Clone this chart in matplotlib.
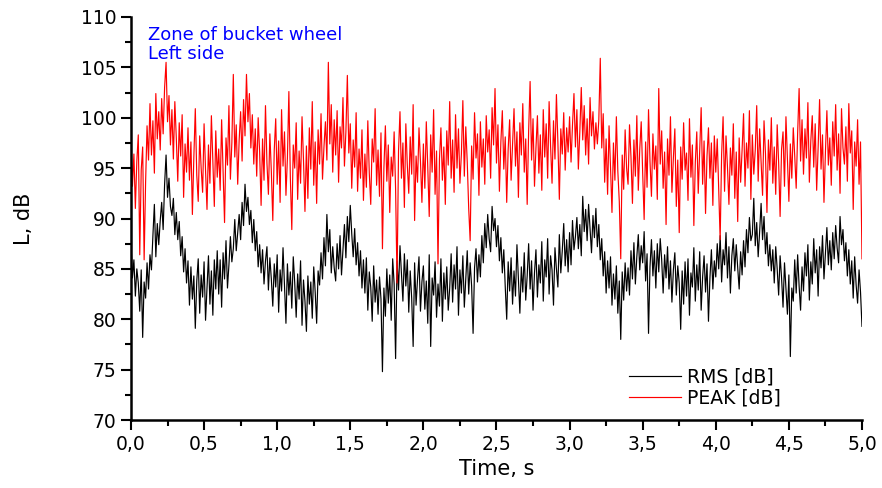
import numpy as np
import matplotlib
matplotlib.use("Agg")
import matplotlib.pyplot as plt
from matplotlib.ticker import MultipleLocator, FuncFormatter

plt.rcParams['font.family'] = ['DejaVu Sans']

# sampled every 0.01 s from 0,00 to 5,00 s
dt = 0.01

rms_db = [
    87.6, 84.1, 85.9, 82.3, 85.0, 83.6, 80.8, 84.9, 78.2, 83.7, 82.1, 85.6, 83.0, 86.4, 84.9, 88.3, 91.4, 86.2, 89.5, 87.4,
    89.8, 91.6, 88.9, 93.4, 96.3, 92.1, 94.0, 91.2, 90.3, 92.0, 88.4, 90.6, 87.9, 89.7, 86.3, 88.2, 84.7, 87.0, 83.6, 85.8,
    81.4, 85.2, 82.0, 84.3, 79.1, 83.8, 86.0, 80.6, 84.4, 82.2, 85.7, 79.9, 83.1, 86.3, 81.5, 84.8, 80.4, 85.9, 83.0, 86.8,
    82.5, 85.9, 81.2, 86.6, 84.0, 87.8, 83.1, 85.4, 88.2, 85.7, 87.0, 89.9, 86.8, 88.6, 90.4, 87.9, 91.6, 89.3, 93.4, 90.7,
    92.1, 89.4, 90.8, 87.6, 89.9, 86.8, 88.7, 85.2, 87.4, 84.6, 86.9, 83.5, 85.8, 87.2, 82.9, 86.1, 84.0, 81.3, 85.5, 83.2,
    86.4, 80.7, 84.9, 82.8, 87.1, 83.3, 79.6, 85.5, 82.4, 84.7, 81.1, 86.2, 83.6, 80.2, 84.5, 82.0, 85.8, 79.4, 83.9, 81.8,
    78.8, 84.3, 81.5, 83.7, 80.1, 85.2, 82.7, 79.6, 84.8, 83.4, 86.6, 84.0, 88.1, 85.3, 90.4, 86.7, 88.9, 84.6, 87.2, 85.1,
    83.8, 87.5, 85.0, 88.3, 84.4, 86.9, 89.4, 86.1, 90.2, 87.7, 91.3, 88.5, 86.2, 89.0, 85.4, 87.6, 84.3, 86.8, 83.1, 85.9,
    82.6, 86.1, 80.9, 84.7, 83.2, 79.8, 85.3, 81.7, 83.9, 80.5, 84.2, 82.0, 74.8, 83.1, 80.3, 85.0, 81.6, 84.4, 79.9, 86.0,
    83.5, 76.1, 85.8, 82.9, 87.3, 84.6, 81.8, 86.5, 83.3, 85.9, 80.7, 84.8, 82.1, 77.3, 85.6, 81.4, 84.0, 86.2, 80.8, 83.7,
    85.3, 81.0, 83.8, 79.6, 86.4, 77.3, 84.1, 82.4, 85.7, 80.2, 83.5, 81.3, 86.0, 79.8, 84.6, 82.0, 85.2, 80.9, 83.1, 86.5,
    81.7, 85.4, 83.0, 87.2, 80.4, 84.9, 82.6, 86.3, 81.2, 84.0, 86.8, 82.5, 85.6, 83.3, 78.6, 85.1, 87.0, 83.7, 86.4, 84.2,
    88.3, 85.6, 89.5, 87.1, 90.4, 88.0, 86.7, 91.2, 88.8, 90.0, 87.2, 89.3, 85.8, 88.1, 84.6, 86.9, 83.2, 80.0, 85.7, 82.8,
    86.1, 81.5, 84.8, 82.3, 87.4, 83.9, 80.6, 85.2, 82.7, 86.6, 81.9, 84.3, 87.5, 83.0, 85.8, 80.9, 84.6, 86.9, 82.2, 85.4,
    83.6, 87.7, 81.8, 85.9, 84.2, 88.0, 82.5, 86.3, 84.9, 81.4, 87.1, 85.0, 83.2, 88.4, 84.6, 86.8, 89.5, 85.3, 87.9, 84.7,
    88.6, 85.4, 89.8, 86.9, 88.2, 90.1, 87.0, 89.4, 86.3, 92.2, 88.7, 90.9, 87.8, 91.4, 89.0, 86.6, 90.3, 88.1, 91.0, 87.2,
    89.4, 85.9, 88.0, 84.3, 86.7, 82.6, 85.8, 83.1, 86.2, 81.4, 84.5, 82.0, 85.3, 80.6, 83.8, 78.0, 84.7, 81.9, 85.6, 82.8,
    85.1, 82.4, 86.8, 84.0, 87.6, 83.5, 86.2, 88.4, 84.9, 87.3, 85.6, 88.7, 83.8, 86.5, 78.6, 85.2, 87.9, 84.3, 86.8, 83.1,
    87.5, 84.7, 88.0, 85.9, 82.6, 86.4, 84.1, 87.2, 83.0, 85.8, 81.7, 84.9, 86.6, 82.4, 85.3, 83.6, 79.0, 84.8, 81.5, 85.7,
    82.3, 86.0, 80.4, 84.6, 83.2, 87.1, 81.8, 85.4, 82.9, 86.7, 80.9, 84.2, 86.3, 82.7, 85.5, 79.8, 84.1, 86.9, 83.0, 85.8,
    84.2, 87.5, 85.0, 88.3, 83.7, 86.9, 85.4, 88.6, 84.1, 87.2, 82.6, 86.3, 88.0, 84.8, 87.4, 85.1, 83.0, 86.7, 84.4, 87.8,
    85.2, 88.9, 86.6, 90.1, 87.8, 88.4, 92.0, 87.3, 89.6, 86.2, 88.7, 91.5, 87.9, 90.2, 86.5, 88.6, 85.3, 87.4, 84.8, 86.9,
    83.6, 87.2, 85.0, 82.4, 86.3, 84.1, 81.2, 85.6, 83.0, 80.5, 84.4, 76.3, 83.1, 81.8, 85.9, 82.6, 86.4, 83.3, 80.9, 85.2,
    82.8, 86.6, 84.3, 87.4, 81.9, 85.7, 83.5, 88.0, 84.6, 86.9, 82.3, 87.2, 85.1, 88.3, 84.0, 86.5, 89.1, 85.4, 87.8, 84.9,
    88.6, 86.0, 89.3, 87.1, 85.6, 90.2, 87.4, 88.9, 85.8, 87.6, 84.3, 86.9, 83.5, 85.8, 82.1, 86.2, 83.4, 81.6, 84.9, 82.7,
    79.3,
]

peak_db = [
    97.8, 93.2, 96.4, 91.0, 95.7, 98.3, 86.4, 94.8, 97.1, 85.9, 93.6, 99.2, 95.8, 101.4, 96.3, 99.7, 94.5, 102.4, 97.9, 100.6,
    96.8, 101.9, 98.4, 103.0, 105.5, 99.6, 102.2, 97.3, 100.8, 95.9, 101.6, 98.0, 93.7, 99.5, 96.2, 100.3, 92.1, 97.4, 94.6, 99.0,
    93.8, 97.6, 90.4, 96.1, 100.9, 94.3, 91.7, 98.2, 95.0, 92.6, 99.4, 94.8, 90.9, 97.3, 93.5, 100.2, 95.6, 91.2, 98.7, 94.1,
    96.9, 92.8, 99.8, 94.6, 89.6, 98.0, 95.3, 101.2, 93.9, 97.5, 104.3, 96.1, 99.3, 93.4, 97.8, 100.6, 95.7, 101.8, 98.2, 104.3,
    99.6, 102.4, 97.0, 100.3, 95.4, 98.9, 94.2, 100.0, 96.6, 91.3, 97.9, 93.8, 101.2, 95.5, 92.4, 98.4, 94.7, 89.8, 96.8, 99.9,
    93.4, 97.7, 91.6, 100.8, 95.2, 98.6, 92.3, 96.0, 102.6, 94.1, 88.9, 97.3, 95.0, 99.5, 91.9, 96.7, 93.5, 100.1, 95.8, 90.7,
    97.2, 92.0, 99.0, 94.9, 101.6, 93.3, 97.6, 91.5, 98.8, 95.4, 100.4, 93.9, 97.1, 99.6, 95.8, 105.5, 97.4, 101.3, 94.6, 99.8,
    96.3, 100.7, 93.6, 99.1, 97.0, 102.0, 95.2, 98.6, 104.2, 96.5, 99.4, 93.0, 97.8, 95.1, 100.5, 92.7, 96.9, 94.0, 98.8, 91.8,
    96.4, 93.1, 99.7, 94.5, 91.4, 97.9, 95.6, 100.9, 93.3, 96.8, 92.2, 98.5, 87.0, 95.0, 99.2, 93.7, 97.3, 90.6, 96.1, 94.2,
    98.6, 92.9, 83.6, 96.7, 100.6, 94.0, 97.5, 91.1, 99.4, 95.3, 92.5, 98.1, 94.4, 101.3, 89.8, 96.2, 93.6, 99.0, 95.7, 91.6,
    97.4, 93.0, 99.6, 95.1, 90.2, 98.3, 94.6, 100.8, 92.4, 96.7, 85.5, 95.9, 99.0, 93.8, 97.1, 91.4, 98.7, 95.3, 101.6, 94.0,
    97.8, 92.6, 100.3, 95.0, 98.9, 93.5, 96.4, 101.7, 94.2, 99.1, 95.6, 91.0, 87.8, 97.2, 93.9, 100.5, 96.0, 98.4, 92.3, 99.6,
    95.1, 97.9, 93.4, 100.2, 96.6, 98.8, 94.0, 101.0, 97.3, 102.9, 95.5, 99.3, 92.7, 97.6, 100.7, 94.9, 98.1, 91.6, 96.9, 99.8,
    93.8, 97.4, 100.9, 95.2, 98.6, 92.1, 99.5, 96.3, 101.4, 94.6, 97.9, 91.4, 98.7, 103.6, 95.8, 99.9, 93.2, 97.0, 100.2, 94.5,
    98.3, 92.8, 100.8, 96.1, 99.4, 94.0, 101.6, 97.2, 93.5, 99.7, 95.9, 102.3, 97.6, 91.9, 98.9, 96.4, 100.5, 94.8, 99.0, 96.6,
    100.1, 95.6, 99.3, 102.4, 97.1, 100.8, 94.9, 98.6, 103.0, 97.8, 101.2, 96.3, 99.9, 95.4, 102.0, 98.2, 100.6, 96.9, 99.5, 97.4,
    99.8, 105.9, 97.0, 100.4, 93.6, 97.9, 92.4, 99.2, 95.1, 90.6, 97.5, 93.8, 100.1, 94.7, 91.7, 86.0, 96.3, 92.9, 98.8, 95.0,
    93.4, 99.3, 96.1, 91.5, 97.8, 94.2, 100.2, 92.8, 96.9, 99.6, 94.5, 89.9, 97.6, 93.1, 100.8, 95.7, 92.2, 98.4, 94.9, 97.2,
    91.9, 102.9, 95.4, 98.7, 93.0, 96.6, 89.4, 97.9, 94.3, 100.1, 92.6, 96.0, 98.9, 91.2, 95.8, 88.6, 97.1, 93.9, 99.5, 94.8,
    96.5, 91.8, 99.9, 94.1, 97.3, 89.3, 95.6, 98.6, 92.5, 96.9, 101.0, 93.4, 97.7, 90.5, 96.2, 99.0, 94.0, 97.5, 91.3, 98.2,
    94.6, 97.9, 93.0, 87.9, 96.4, 100.1, 92.7, 98.2, 95.1, 91.4, 97.0, 94.3, 99.4, 92.0, 96.6, 89.7, 98.0, 93.6, 96.8, 100.4,
    93.2, 97.5, 95.0, 100.7, 91.9, 98.3, 94.4, 96.8, 101.2, 93.7, 98.9, 95.6, 92.3, 99.7, 96.4, 90.6, 97.8, 94.8, 100.0, 93.5,
    97.1, 92.4, 99.3, 95.5, 90.2, 96.9, 98.6, 93.2, 100.1, 95.8, 91.7, 97.4, 94.0, 99.0, 96.2, 93.0, 98.5, 102.9, 95.7, 99.8,
    94.4, 98.9, 96.0, 101.5, 93.6, 97.7, 100.2, 95.1, 99.4, 92.8, 97.0, 101.8, 94.9, 98.3, 91.6, 96.6, 100.7, 95.3, 98.0, 93.3,
    99.6, 96.2, 101.3, 94.8, 98.4, 92.5, 100.9, 97.0, 95.4, 99.1, 93.7, 101.4, 96.5, 98.7, 90.9, 97.6, 95.2, 99.8, 93.4, 97.6,
    86.0,
]

t = np.arange(len(rms_db)) * dt

fig = plt.figure(figsize=(8.82, 4.88), dpi=100)
ax = fig.add_axes([0.1485, 0.1393, 0.8288, 0.8259])

ax.plot(t, rms_db, color='black', lw=0.85, label='RMS [dB]')
ax.plot(t, peak_db, color='#ff0000', lw=0.85, label='PEAK [dB]')

ax.set_xlim(0, 5)
ax.set_ylim(70, 110)
ax.xaxis.set_major_locator(MultipleLocator(0.5))
ax.xaxis.set_minor_locator(MultipleLocator(0.25))
ax.yaxis.set_major_locator(MultipleLocator(5))
ax.yaxis.set_minor_locator(MultipleLocator(2.5))
ax.xaxis.set_major_formatter(FuncFormatter(lambda v, p: f"{v:.1f}".replace('.', ',')))

for side in ['top', 'right']:
    ax.spines[side].set_visible(False)
for side in ['left', 'bottom']:
    ax.spines[side].set_linewidth(1.8)
ax.tick_params(which='major', length=7, width=1.5, labelsize=13.5, direction='out')
ax.tick_params(which='minor', length=4, width=1.5, direction='out')

ax.set_xlabel('Time, s', fontsize=15, labelpad=4)
ax.set_ylabel('L, dB', fontsize=15, labelpad=34)

ax.text(0.023, 0.978, 'Zone of bucket wheel\nLeft side', transform=ax.transAxes,
        color='#0000ff', fontsize=13, va='top', ha='left', linespacing=1.05)

ax.legend(loc='lower right', bbox_to_anchor=(0.912, -0.01), frameon=False,
          fontsize=13.5, handlelength=2.8, handletextpad=0.3, labelspacing=0.1)

fig.savefig('out.png', dpi=100)
